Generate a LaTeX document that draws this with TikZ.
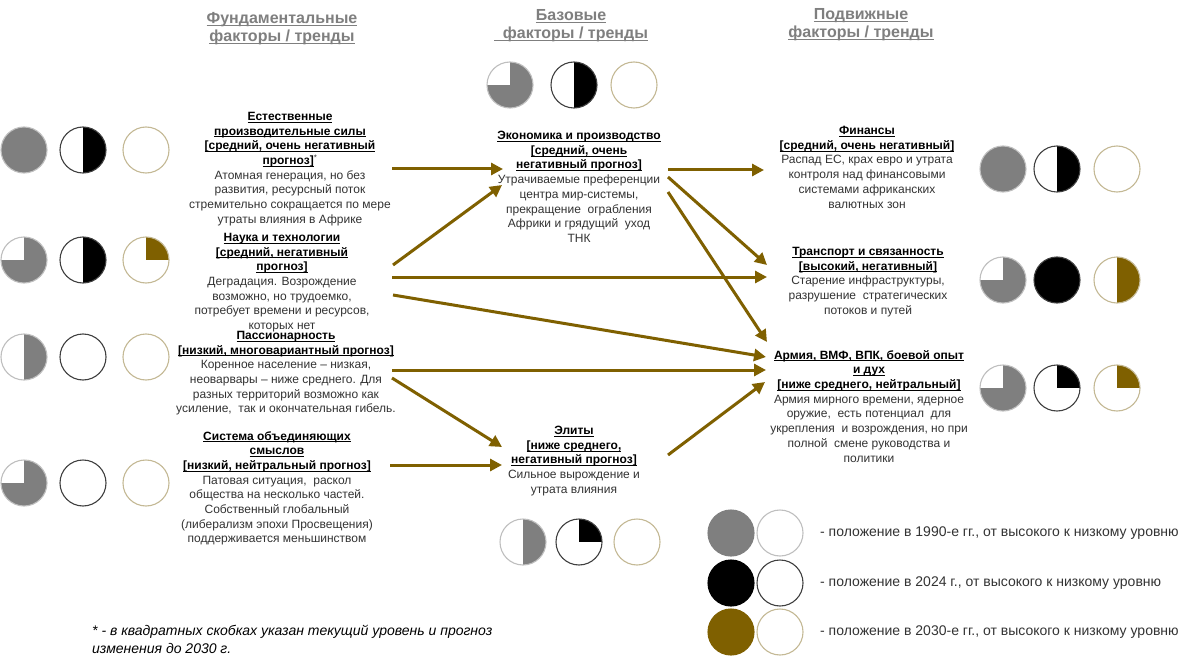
\documentclass[tikz,border=0pt]{standalone}
\usepackage{fontspec}
\setmainfont{Liberation Sans}
\usetikzlibrary{arrows.meta}
\definecolor{gold50}{HTML}{7F6000}
\definecolor{midgray}{HTML}{7F7F7F}
\definecolor{lgray}{HTML}{BFBFBF}
\definecolor{dgray}{HTML}{404040}
\definecolor{tan30}{HTML}{C4B995}
\definecolor{txt}{HTML}{333333}
\newcommand\uln[1]{\setbox0=\hbox{#1}\rlap{\rule[-2.2pt]{\wd0}{0.9pt}}\box0}
\newcommand\ttl[1]{{\color{black}\bfseries\uln{#1}}}
\tikzset{
  blk/.style={anchor=north, align=center, inner sep=0pt, text=txt, font=\fontsize{12}{14.7}\selectfont},
  hdr/.style={anchor=north, align=center, inner sep=0pt, text=midgray, font=\fontsize{16}{18}\selectfont\bfseries},
  lgd/.style={anchor=west, inner sep=0pt, text=txt, font=\fontsize{14}{16}\selectfont},
  arr/.style={draw=gold50, line width=3pt, -{Triangle[length=12pt,width=12pt]}},
  pics/pfull/.style 2 args={code={\fill[#1] (0,0) circle[radius=23pt]; \draw[#2,line width=1.1pt] (0,0) circle[radius=23pt];}},
  pics/pempty/.style={code={\draw[#1,line width=1.1pt,fill=white] (0,0) circle[radius=23pt];}},
  pics/phalf/.style 2 args={code={\fill[white] (0,0) circle[radius=23pt];
      \begin{scope}\clip (0,0) circle[radius=23pt]; \fill[#1] (0,-24) rectangle (24,24);\end{scope}
      \draw[#2,line width=1.1pt] (0,0) circle[radius=23pt];}},
  pics/pquar/.style 2 args={code={\fill[white] (0,0) circle[radius=23pt];
      \begin{scope}\clip (0,0) circle[radius=23pt]; \fill[#1] (0,-24) rectangle (24,0);\end{scope}
      \draw[#2,line width=1.1pt] (0,0) circle[radius=23pt];}},
  pics/pthree/.style 2 args={code={\fill[#1] (0,0) circle[radius=23pt];
      \begin{scope}\clip (0,0) circle[radius=23pt]; \fill[white] (-24,-24) rectangle (0,0);\end{scope}
      \draw[#2,line width=1.1pt] (0,0) circle[radius=23pt];}},
}
\begin{document}
\begin{tikzpicture}[x=1pt,y=-1pt]
\useasboundingbox (0,0) rectangle (1200,666);
\fill[white] (0,0) rectangle (1200,666);

% headers
\node[hdr] (hfund) at (282,12) {\uln{Фундаментальные}\\\uln{факторы / тренды}};
\node[hdr] (hbase) at (571,9) {\uln{Базовые}\\\uln{\ \ факторы / тренды}};
\node[hdr] (hmob) at (861,8) {\uln{Подвижные}\\\uln{факторы / тренды}};

% left column
\node[blk] (est) at (290,112) {\ttl{Естественные}\\\ttl{производительные силы}\\\ttl{[средний, очень негативный}\\\ttl{прогноз]}\textsuperscript{*}\\Атомная генерация, но без\\развития, ресурсный поток\\стремительно сокращается по мере\\утраты влияния в Африке};
\node[blk] (nauka) at (282,233) {\ttl{Наука и технологии}\\\ttl{[средний, негативный}\\\ttl{прогноз]}\\Деградация. Возрождение\\возможно, но трудоемко,\\потребует времени и ресурсов,\\которых нет};
\node[blk] (pass) at (286,331) {\ttl{Пассионарность}\\\ttl{[низкий, многовариантный прогноз]}\\Коренное население -- низкая,\\неоварвары -- ниже среднего. Для\\разных территорий возможно как\\усиление,\ \ так и окончательная гибель.};
\node[blk] (sys) at (277,431) {\ttl{Система объединяющих}\\\ttl{смыслов}\\\ttl{[низкий, нейтральный прогноз]}\\Патовая ситуация,\ \ раскол\\общества на несколько частей.\\Собственный глобальный\\(либерализм эпохи Просвещения)\\поддерживается меньшинством};

% middle column
\node[blk] (eco) at (579,131) {\ttl{Экономика и производство}\\\ttl{[средний, очень}\\\ttl{негативный прогноз]}\\Утрачиваемые преференции\\центра мир-системы,\\прекращение\ \ ограбления\\Африки и грядущий\ \ уход\\ТНК};
\node[blk] (elite) at (574,426) {\ttl{Элиты}\\\ttl{[ниже среднего,}\\\ttl{негативный прогноз]}\\Сильное вырождение и\\утрата влияния};

% right column
\node[blk] (fin) at (867,126) {\ttl{Финансы}\\\ttl{[средний, очень негативный]}\\Распад ЕС, крах евро и утрата\\контроля над финансовыми\\системами африканских\\валютных зон};
\node[blk] (trans) at (868,247) {\ttl{Транспорт и связанность}\\\ttl{[высокий, негативный]}\\Старение инфраструктуры,\\разрушение\ \ стратегических\\потоков и путей};
\node[blk] (army) at (869,350) {\ttl{Армия, ВМФ, ВПК, боевой опыт}\\\ttl{и дух}\\\ttl{[ниже среднего, нейтральный]}\\Армия мирного времени, ядерное\\оружие,\ \ есть потенциал\ \ для\\укрепления\ \ и возрождения, но при\\полной\ \ смене руководства и\\политики};

% arrows
\draw[arr] ([shift={(102,57)}]est.north) -- ([shift={(-76,38)}]eco.north);
\draw[arr] ([shift={(111,32)}]nauka.north) -- ([shift={(-77,54)}]eco.north);
\draw[arr] ([shift={(110,44)}]nauka.north) -- ([shift={(-101,30)}]trans.north);
\draw[arr] ([shift={(111,62)}]nauka.north) -- ([shift={(-103,7)}]army.north);
\draw[arr] ([shift={(89,39)}]eco.north) -- ([shift={(-103,44)}]fin.north);
\draw[arr] ([shift={(89,46)}]eco.north) -- ([shift={(-101,18)}]trans.north);
\draw[arr] ([shift={(89,61)}]eco.north) -- ([shift={(-102,-8)}]army.north);
\draw[arr] ([shift={(106,39)}]pass.north) -- ([shift={(-103,20)}]army.north);
\draw[arr] ([shift={(106,47)}]pass.north) -- ([shift={(-72,21)}]elite.north);
\draw[arr] ([shift={(113,34)}]sys.north) -- ([shift={(-72,39)}]elite.north);
\draw[arr] ([shift={(94,29)}]elite.north) -- ([shift={(-104,32)}]army.north);

% circles left
\pic at (24,150) {pfull={midgray}{lgray}};
\pic at (83,150) {phalf={black}{dgray}};
\pic at (146,150) {pempty=tan30};
\pic at (24,260) {pthree={midgray}{lgray}};
\pic at (83,260) {phalf={black}{dgray}};
\pic at (146,260) {pquar={gold50}{tan30}};
\pic at (24,357) {phalf={midgray}{lgray}};
\pic at (83,357) {pempty=dgray};
\pic at (146,357) {pempty=tan30};
\pic at (24,483) {pthree={midgray}{lgray}};
\pic at (83,483) {pempty=dgray};
\pic at (146,483) {pempty=tan30};
% middle
\pic at (510,85) {pthree={midgray}{lgray}};
\pic at (574,85) {phalf={black}{dgray}};
\pic at (634,85) {pempty=tan30};
\pic at (523,542) {phalf={midgray}{lgray}};
\pic at (579,542) {pquar={black}{dgray}};
\pic at (637,542) {pempty=tan30};
% right
\pic at (1003,169) {pfull={midgray}{lgray}};
\pic at (1057,169) {phalf={black}{dgray}};
\pic at (1117,169) {pempty=tan30};
\pic at (1003,280) {pthree={midgray}{lgray}};
\pic at (1057,280) {pfull={black}{dgray}};
\pic at (1117,280) {phalf={gold50}{tan30}};
\pic at (1003,388) {pthree={midgray}{lgray}};
\pic at (1057,388) {pquar={black}{dgray}};
\pic at (1117,388) {pquar={gold50}{tan30}};
% legend
\pic at (731,533) {pfull={midgray}{midgray}};
\pic at (780,533) {pempty=lgray};
\pic at (731,583) {pfull={black}{black}};
\pic at (780,583) {pempty=dgray};
\pic at (731,632) {pfull={gold50}{gold50}};
\pic at (780,632) {pempty=tan30};
\node[lgd] (l1) at (820,533) {- положение в 1990-е гг., от высокого к низкому уровню};
\node[lgd] (l2) at (820,583) {- положение в 2024 г., от высокого к низкому уровню};
\node[lgd] (l3) at (820,632) {- положение в 2030-е гг., от высокого к низкому уровню};

% footnote
\node[anchor=north west, align=left, inner sep=0pt, text=black, font=\fontsize{14}{18}\selectfont\itshape] (note) at (92,625) {* - в квадратных скобках указан текущий уровень и прогноз\\изменения до 2030 г.};
\end{tikzpicture}
\end{document}
